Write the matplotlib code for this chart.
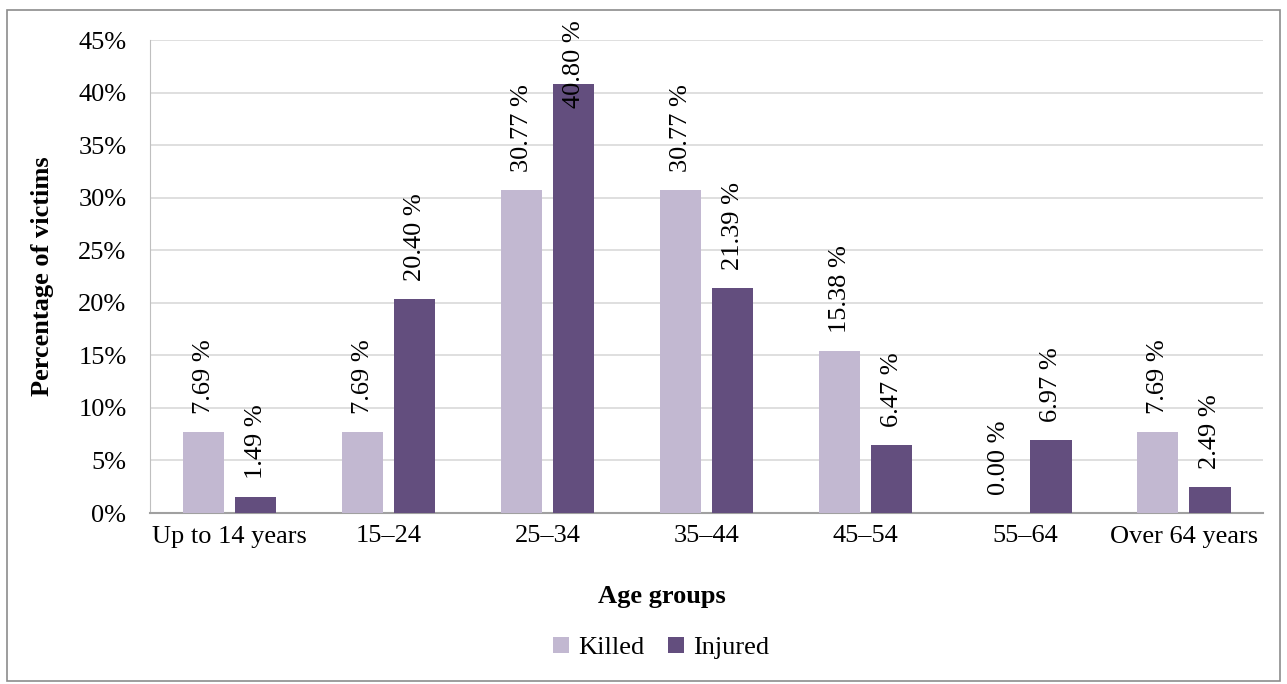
import numpy as np
import matplotlib
matplotlib.use("Agg")
import matplotlib.pyplot as plt
from matplotlib.patches import Rectangle
from matplotlib.ticker import FuncFormatter

plt.rcParams['font.family'] = ['Liberation Serif', 'DejaVu Serif']

age_groups = ["Up to 14 years", "15\u201324", "25\u201334", "35\u201344",
              "45\u201354", "55\u201364", "Over 64 years"]
killed = [7.69, 7.69, 30.77, 30.77, 15.38, 0.00, 7.69]
injured = [1.49, 20.40, 40.80, 21.39, 6.47, 6.97, 2.49]

c_killed = "#C2B8D1"
c_injured = "#634E7E"
fs = 19

fig = plt.figure(figsize=(12.87, 6.84), dpi=100)
ax = fig.add_axes([0.1166, 0.25, 0.865, 0.6915])

x = np.arange(len(age_groups))
w = 0.26
off = 0.164
b1 = ax.bar(x - off, killed, w, color=c_killed, label="Killed", zorder=3)
b2 = ax.bar(x + off, injured, w, color=c_injured, label="Injured", zorder=3)

for bars, vals in ((b1, killed), (b2, injured)):
    for bar, v in zip(bars, vals):
        cx = bar.get_x() + bar.get_width() / 2
        txt = f"{v:.2f} %"
        if v > 38:
            # label would leave the chart, push it back inside
            ax.text(cx, 1.042, txt, transform=ax.get_xaxis_transform(),
                    rotation=90, ha="center", va="top", fontsize=fs, zorder=4)
        else:
            ax.annotate(txt, (cx, v), xytext=(0, 13), textcoords="offset points",
                        rotation=90, ha="center", va="bottom", fontsize=fs, zorder=4)

ax.set_xlim(-0.5, len(age_groups) - 0.5)
ax.set_ylim(0, 45)
ax.set_yticks(np.arange(0, 46, 5))
ax.yaxis.set_major_formatter(FuncFormatter(lambda v, p: f"{v:.0f}%"))
ax.set_xticks(x)
ax.set_xticklabels(age_groups)
ax.tick_params(axis="both", length=0, labelsize=fs)
ax.tick_params(axis="y", pad=17)
ax.tick_params(axis="x", pad=9)
ax.grid(axis="y", color="#D9D9D9", linewidth=1.2, zorder=0)

for s in ("top", "right"):
    ax.spines[s].set_visible(False)
ax.spines["left"].set_color("#BFBFBF")
ax.spines["bottom"].set_color("#A0A0A0")
ax.spines["bottom"].set_linewidth(1.5)

fig.text(0.033, 0.25 + 0.6915 / 2, "Percentage of victims", rotation=90,
         ha="center", va="center", fontsize=fs, fontweight="bold")
fig.text(0.514, 1 - 596 / 684, "Age groups", ha="center", va="center",
         fontsize=fs, fontweight="bold")

fig.legend(handles=[b1, b2], loc="center", bbox_to_anchor=(0.514, 1 - 648 / 684),
           ncol=2, frameon=False, fontsize=fs, handlelength=0.6, handleheight=0.6,
           handletextpad=0.35, columnspacing=0.9)

fig.patches.append(Rectangle((7 / 1287, 3 / 684), 1273 / 1287, 671 / 684,
                             transform=fig.transFigure, fill=False,
                             edgecolor="#8C8C8C", linewidth=1.2))

fig.savefig("out.png", dpi=100)
